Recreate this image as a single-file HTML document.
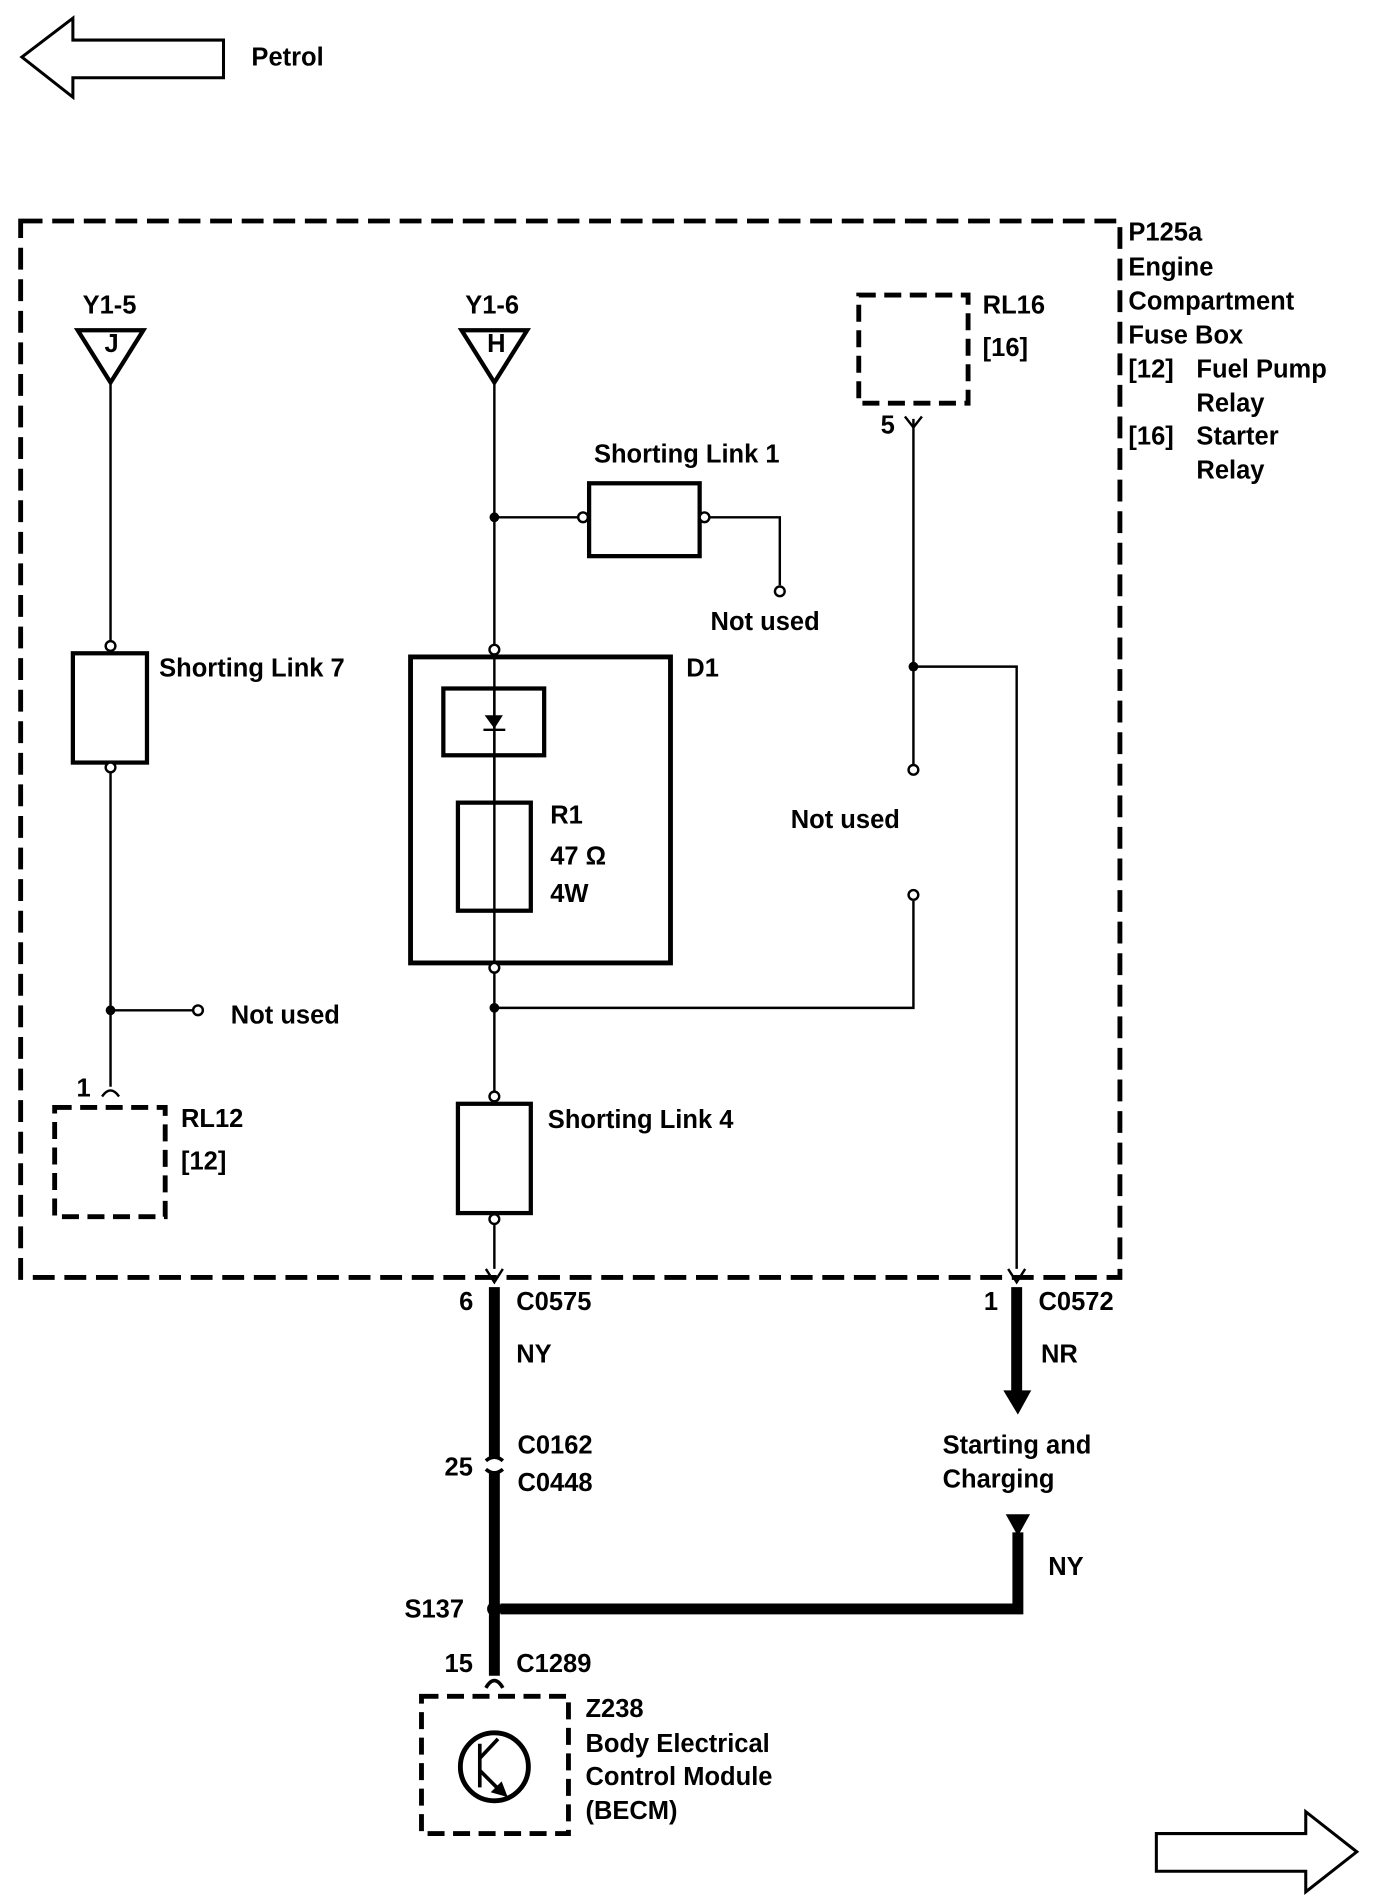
<!DOCTYPE html>
<html><head><meta charset="utf-8"><style>
html,body{margin:0;padding:0;background:#fff;}
svg{display:block;}
text{font-family:"Liberation Sans",Arial,sans-serif;font-weight:bold;font-size:21px;fill:#000;}
</style></head><body>
<svg width="1392" height="1904" viewBox="0 0 1146 1568" preserveAspectRatio="none" xmlns="http://www.w3.org/2000/svg">
<g fill="none" stroke="#000" stroke-width="2.5">
<polygon points="18,47 60,15 60,33 184,33 184,64 60,64 60,80"/>
<polygon points="952,1510 1075,1510 1075,1492 1117,1525 1075,1558 1075,1541 952,1541"/>
</g>
<text x="207" y="54">Petrol</text>
<rect x="17" y="182" width="905" height="870" fill="none" stroke="#000" stroke-width="4" stroke-dasharray="18,8"/>
<text x="929" y="198">P125a</text><text x="929" y="227">Engine</text><text x="929" y="255">Compartment</text><text x="929" y="283">Fuse Box</text>
<text x="929" y="311">[12]</text><text x="985" y="311">Fuel Pump</text><text x="985" y="339">Relay</text>
<text x="929" y="366">[16]</text><text x="985" y="366">Starter</text><text x="985" y="394">Relay</text>
<g stroke="#000" stroke-width="2" fill="none">
<line x1="91" y1="315" x2="91" y2="528"/><line x1="91" y1="636" x2="91" y2="895"/>
<line x1="91" y1="832" x2="159" y2="832"/>
<line x1="407" y1="315" x2="407" y2="1045"/>
<line x1="407" y1="426" x2="476" y2="426"/>
<polyline points="584,426 642,426 642,482"/>
<polyline points="407,830 752,830 752,742"/>
<line x1="752" y1="345" x2="752" y2="630"/>
<polyline points="752,549 837,549 837,1045"/>
</g>
<g stroke="#000" stroke-width="3.5" fill="#fff">
<polygon points="64,272 118,272 91,315"/><polygon points="380,272 434,272 407,315"/>
<rect x="60" y="538" width="61" height="90"/>
<rect x="485" y="398" width="91" height="60"/>
<rect x="338" y="541" width="214" height="252" fill="none" stroke-width="4"/>
<rect x="365" y="567" width="83" height="55" fill="none"/>
<rect x="377" y="661" width="60" height="89"/>
<rect x="377" y="909" width="60" height="90"/>
</g>
<line x1="407" y1="567" x2="407" y2="750" stroke="#000" stroke-width="2"/>
<polygon points="399,589 414,589 407,600" fill="#000"/><line x1="398" y1="601" x2="416" y2="601" stroke="#000" stroke-width="2"/>
<text x="86" y="290" font-size="12">J</text><text x="401" y="290" font-size="12">H</text>
<g stroke="#000" stroke-width="2" fill="#fff">
<circle cx="91" cy="532" r="4"/><circle cx="91" cy="632" r="4"/><circle cx="163" cy="832" r="4"/>
<circle cx="480" cy="426" r="4"/><circle cx="580" cy="426" r="4"/><circle cx="642" cy="487" r="4"/>
<circle cx="407" cy="535" r="4"/><circle cx="407" cy="797" r="4"/><circle cx="407" cy="903" r="4"/><circle cx="407" cy="1004" r="4"/>
<circle cx="752" cy="634" r="4"/><circle cx="752" cy="737" r="4"/>
</g>
<g fill="#000"><circle cx="91" cy="832" r="4"/><circle cx="407" cy="426" r="4"/><circle cx="407" cy="830" r="4"/><circle cx="752" cy="549" r="4"/></g>
<g fill="none" stroke="#000" stroke-width="4" stroke-dasharray="14,7">
<rect x="45" y="912" width="91" height="90"/><rect x="707" y="243" width="90" height="89"/><rect x="347" y="1397" width="121" height="113"/>
</g>
<g fill="none" stroke="#000" stroke-width="2">
<path d="M84,903 Q91,893 98,903"/><path d="M745,343 L752,352 L759,343"/>
</g>
<text x="68" y="258">Y1-5</text><text x="383" y="258">Y1-6</text>
<text x="131" y="557">Shorting Link 7</text><text x="190" y="843">Not used</text>
<text x="63" y="903">1</text><text x="149" y="928">RL12</text><text x="149" y="963">[12]</text>
<text x="489" y="381">Shorting Link 1</text><text x="585" y="519">Not used</text>
<text x="565" y="557">D1</text><text x="453" y="678">R1</text><text x="453" y="712">47 &#937;</text><text x="453" y="743">4W</text>
<text x="451" y="929">Shorting Link 4</text>
<text x="809" y="258">RL16</text><text x="809" y="293">[16]</text><text x="725" y="357">5</text>
<text x="651" y="682">Not used</text>
<g stroke="#000" fill="none">
<path d="M400,1045 L407,1056 L414,1045" stroke-width="2"/><path d="M830,1045 L837,1056 L844,1045" stroke-width="2"/>
<line x1="407" y1="1060" x2="407" y2="1200" stroke-width="9"/><line x1="407" y1="1212" x2="407" y2="1380" stroke-width="9"/>
<path d="M400,1203 Q407,1197 414,1203 M400,1210 Q407,1216 414,1210" stroke-width="3"/>
<polyline points="412,1325 838,1325 838,1262" stroke-width="9"/>
<line x1="837" y1="1060" x2="837" y2="1148" stroke-width="9"/>
<path d="M400,1390 Q407,1378 414,1390" stroke-width="3"/>
<circle cx="407" cy="1455" r="28" stroke-width="4"/>
<line x1="395" y1="1436" x2="395" y2="1472" stroke-width="3"/><line x1="395" y1="1448" x2="410" y2="1432" stroke-width="3"/><line x1="395" y1="1458" x2="412" y2="1475" stroke-width="3"/>
</g>
<polygon points="418,1480 404,1476 413,1467" fill="#000"/>
<polygon points="826,1145 849,1145 838,1165" fill="#000"/>
<polygon points="828,1247 848,1247 838,1265" fill="#000"/>
<circle cx="407" cy="1325" r="6" fill="#000"/>
<text x="378" y="1079">6</text><text x="425" y="1079">C0575</text><text x="425" y="1122">NY</text>
<text x="366" y="1215">25</text><text x="426" y="1197">C0162</text><text x="426" y="1228">C0448</text>
<text x="333" y="1332">S137</text><text x="366" y="1377">15</text><text x="425" y="1377">C1289</text>
<text x="482" y="1414">Z238</text><text x="482" y="1443">Body Electrical</text><text x="482" y="1470">Control Module</text><text x="482" y="1498">(BECM)</text>
<text x="810" y="1079">1</text><text x="855" y="1079">C0572</text><text x="857" y="1122">NR</text>
<text x="776" y="1197">Starting and</text><text x="776" y="1225">Charging</text><text x="863" y="1297">NY</text>
</svg>
</body></html>
